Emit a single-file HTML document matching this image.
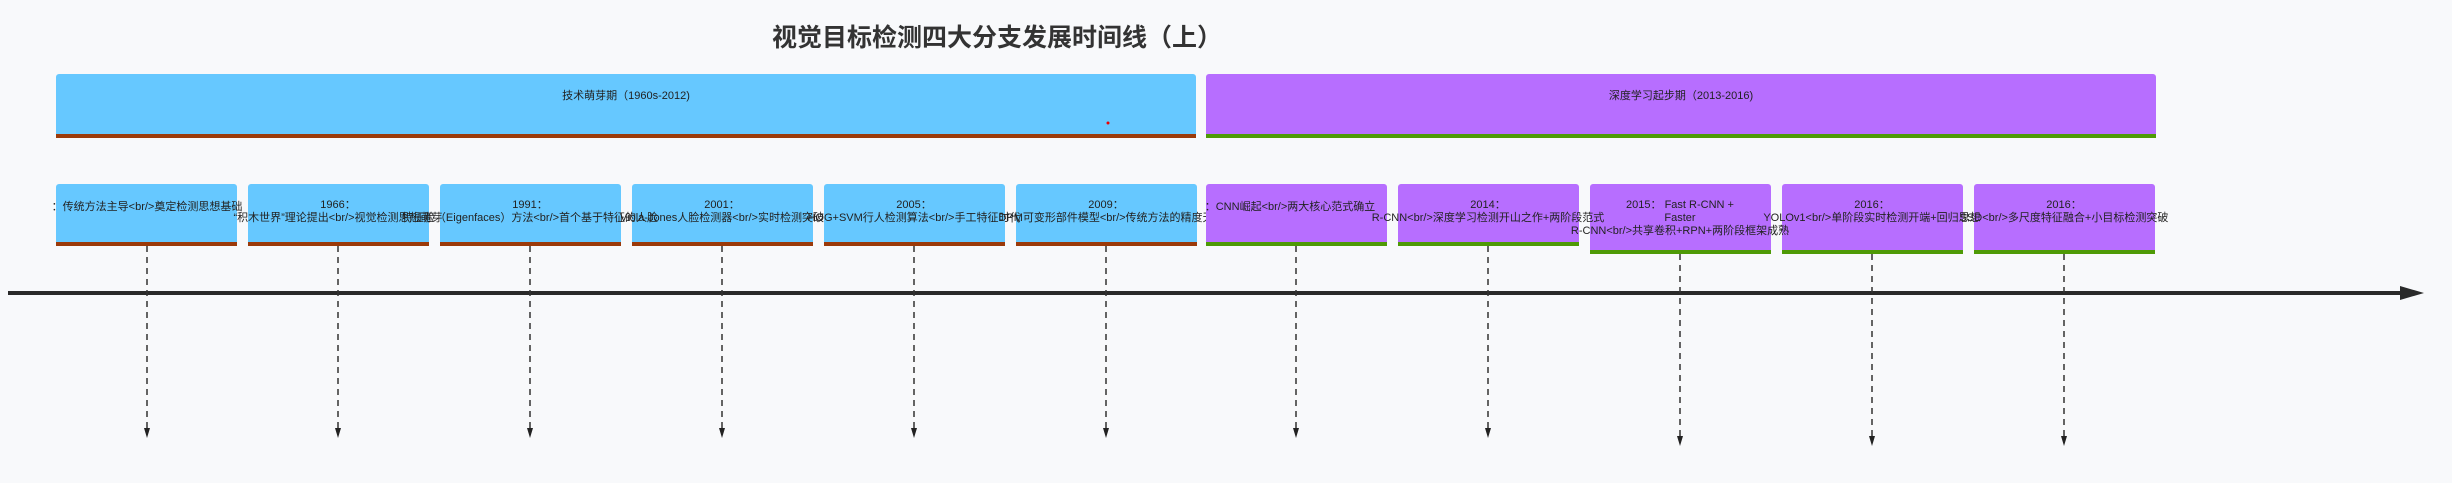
<!DOCTYPE html>
<html><head><meta charset="utf-8"><style>
html,body{margin:0;padding:0;background:#f8f9fb;}
svg{display:block;}
text{font-family:"Liberation Sans","Noto Sans CJK SC",sans-serif;fill:#222;}
</style></head><body>
<svg width="2452" height="483" viewBox="0 0 2452 483" xmlns="http://www.w3.org/2000/svg">
<rect width="2452" height="483" fill="#f8f9fb"/>
<text x="997" y="46" text-anchor="middle" font-size="25" font-weight="bold" style="fill:#333">视觉目标检测四大分支发展时间线（上）</text>

<rect x="56" y="74" width="1140" height="64" rx="3" fill="#66c8ff"/>
<rect x="56" y="134" width="1140" height="4" fill="#9b3a0a"/>
<text x="626" y="99" text-anchor="middle" font-size="11">技术萌芽期（1960s-2012)</text>
<circle cx="1108" cy="123" r="1.5" fill="#e00"/>
<rect x="1206" y="74" width="950" height="64" rx="3" fill="#b76eff"/>
<rect x="1206" y="134" width="950" height="4" fill="#4e9a06"/>
<text x="1681" y="99" text-anchor="middle" font-size="11">深度学习起步期（2013-2016)</text>

<line x1="8" y1="293" x2="2400" y2="293" stroke="#2a2a2a" stroke-width="4"/>
<path d="M2400,286 L2424,293 L2400,300 Z" fill="#2a2a2a"/>

<g stroke="#333" stroke-width="1.5" stroke-dasharray="6,5" fill="none">
<line x1="147" y1="246" x2="147" y2="430"/>
<line x1="338" y1="246" x2="338" y2="430"/>
<line x1="530" y1="246" x2="530" y2="430"/>
<line x1="722" y1="246" x2="722" y2="430"/>
<line x1="914" y1="246" x2="914" y2="430"/>
<line x1="1106" y1="246" x2="1106" y2="430"/>
<line x1="1296" y1="246" x2="1296" y2="430"/>
<line x1="1488" y1="246" x2="1488" y2="430"/>
<line x1="1680" y1="254" x2="1680" y2="438"/>
<line x1="1872" y1="254" x2="1872" y2="438"/>
<line x1="2064" y1="254" x2="2064" y2="438"/>
</g>
<g fill="#222">
<path d="M144,428 L150,428 L147,438 Z"/>
<path d="M335,428 L341,428 L338,438 Z"/>
<path d="M527,428 L533,428 L530,438 Z"/>
<path d="M719,428 L725,428 L722,438 Z"/>
<path d="M911,428 L917,428 L914,438 Z"/>
<path d="M1103,428 L1109,428 L1106,438 Z"/>
<path d="M1293,428 L1299,428 L1296,438 Z"/>
<path d="M1485,428 L1491,428 L1488,438 Z"/>
<path d="M1677,436 L1683,436 L1680,446 Z"/>
<path d="M1869,436 L1875,436 L1872,446 Z"/>
<path d="M2061,436 L2067,436 L2064,446 Z"/>
</g>

<g>
<rect x="56" y="184" width="181" height="62" rx="3" fill="#66c8ff"/><rect x="56" y="242" width="181" height="4" fill="#9b3a0a"/>
<rect x="248" y="184" width="181" height="62" rx="3" fill="#66c8ff"/><rect x="248" y="242" width="181" height="4" fill="#9b3a0a"/>
<rect x="440" y="184" width="181" height="62" rx="3" fill="#66c8ff"/><rect x="440" y="242" width="181" height="4" fill="#9b3a0a"/>
<rect x="632" y="184" width="181" height="62" rx="3" fill="#66c8ff"/><rect x="632" y="242" width="181" height="4" fill="#9b3a0a"/>
<rect x="824" y="184" width="181" height="62" rx="3" fill="#66c8ff"/><rect x="824" y="242" width="181" height="4" fill="#9b3a0a"/>
<rect x="1016" y="184" width="181" height="62" rx="3" fill="#66c8ff"/><rect x="1016" y="242" width="181" height="4" fill="#9b3a0a"/>
</g>
<g font-size="11" text-anchor="middle">
<text x="147" y="210">：传统方法主导&lt;br/&gt;奠定检测思想基础</text>
<text x="338" y="208">1966：</text>
<text x="338" y="221">“积木世界”理论提出&lt;br/&gt;视觉检测思想萌芽</text>
<text x="530" y="208">1991：</text>
<text x="530" y="221">特征脸（Eigenfaces）方法&lt;br/&gt;首个基于特征的人脸</text>
<text x="722" y="208">2001：</text>
<text x="722" y="221">Viola-Jones人脸检测器&lt;br/&gt;实时检测突破</text>
<text x="914" y="208">2005：</text>
<text x="914" y="221">HOG+SVM行人检测算法&lt;br/&gt;手工特征时代</text>
<text x="1106" y="208">2009：</text>
<text x="1106" y="221">DPM可变形部件模型&lt;br/&gt;传统方法的精度天</text>
</g>

<g>
<rect x="1206" y="184" width="181" height="62" rx="3" fill="#b76eff"/><rect x="1206" y="242" width="181" height="4" fill="#4e9a06"/>
<rect x="1398" y="184" width="181" height="62" rx="3" fill="#b76eff"/><rect x="1398" y="242" width="181" height="4" fill="#4e9a06"/>
<rect x="1590" y="184" width="181" height="70" rx="3" fill="#b76eff"/><rect x="1590" y="250" width="181" height="4" fill="#4e9a06"/>
<rect x="1782" y="184" width="181" height="70" rx="3" fill="#b76eff"/><rect x="1782" y="250" width="181" height="4" fill="#4e9a06"/>
<rect x="1974" y="184" width="181" height="70" rx="3" fill="#b76eff"/><rect x="1974" y="250" width="181" height="4" fill="#4e9a06"/>
</g>
<g font-size="11" text-anchor="middle">
<text x="1290" y="210">：CNN崛起&lt;br/&gt;两大核心范式确立</text>
<text x="1488" y="208">2014：</text>
<text x="1488" y="221">R-CNN&lt;br/&gt;深度学习检测开山之作+两阶段范式</text>
<text x="1680" y="208">2015： Fast R-CNN +</text>
<text x="1680" y="221">Faster</text>
<text x="1680" y="234">R-CNN&lt;br/&gt;共享卷积+RPN+两阶段框架成熟</text>
<text x="1872" y="208">2016：</text>
<text x="1872" y="221">YOLOv1&lt;br/&gt;单阶段实时检测开端+回归思想</text>
<text x="2064" y="208">2016：</text>
<text x="2064" y="221">SSD&lt;br/&gt;多尺度特征融合+小目标检测突破</text>
</g>
</svg>
</body></html>
